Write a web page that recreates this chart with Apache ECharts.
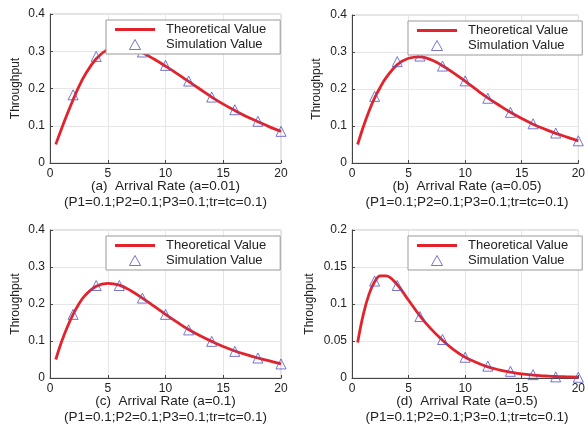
<!DOCTYPE html>
<html>
<head>
<meta charset="utf-8">
<script src="https://cdn.jsdelivr.net/npm/echarts@6/dist/echarts.min.js"></script>
<style>
    html, body { margin: 0; padding: 0; background: #fff; }
    #chart { width: 588px; height: 430px; }
</style>
</head>
<body>
<div id="chart"></div>
<script>
// x positions for the theoretical curve and the simulation points
const theoryX = [0.5, 1, 1.5, 2, 2.5, 3, 4, 5, 6, 7, 8, 9, 10, 11, 12, 13, 14, 15, 16, 17, 18, 19, 20];
const simX = [2, 4, 6, 8, 10, 12, 14, 16, 18, 20];

// theoretical values, one list per panel
const theoryA = [0.05, 0.092, 0.132, 0.17, 0.205, 0.235, 0.28, 0.305, 0.313, 0.308, 0.296, 0.279, 0.26, 0.24, 0.219, 0.198, 0.177, 0.158, 0.141, 0.125, 0.111, 0.097, 0.085];
const theoryB = [0.05, 0.098, 0.14, 0.176, 0.205, 0.23, 0.266, 0.283, 0.287, 0.279, 0.263, 0.243, 0.221, 0.198, 0.176, 0.156, 0.137, 0.12, 0.105, 0.092, 0.08, 0.07, 0.06];
const theoryC = [0.05, 0.098, 0.138, 0.172, 0.2, 0.222, 0.248, 0.256, 0.251, 0.236, 0.216, 0.194, 0.172, 0.151, 0.131, 0.114, 0.099, 0.085, 0.073, 0.063, 0.054, 0.046, 0.038];
const theoryD = [0.048, 0.086, 0.113, 0.13, 0.138, 0.138, 0.126, 0.105, 0.084, 0.066, 0.051, 0.038, 0.028, 0.021, 0.015, 0.011, 0.008, 0.0055, 0.004, 0.003, 0.002, 0.0015, 0.001];

// simulation values, one list per panel
const simA = [0.183, 0.286, 0.312, 0.298, 0.262, 0.22, 0.177, 0.143, 0.112, 0.085];
const simB = [0.18, 0.274, 0.289, 0.262, 0.222, 0.175, 0.137, 0.106, 0.081, 0.06];
const simC = [0.172, 0.25, 0.25, 0.216, 0.172, 0.13, 0.099, 0.072, 0.054, 0.038];
const simD = [0.131, 0.125, 0.083, 0.052, 0.028, 0.016, 0.009, 0.0045, 0.0015, 0.001];

const yMax = [0.4, 0.4, 0.4, 0.2];
const yStep = [0.1, 0.1, 0.1, 0.05];
const captions = [
    '(a)  Arrival Rate (a=0.01)',
    '(b)  Arrival Rate (a=0.05)',
    '(c)  Arrival Rate (a=0.1)',
    '(d)  Arrival Rate (a=0.5)'
];
const paramLine = '(P1=0.1;P2=0.1;P3=0.1;tr=tc=0.1)';

const theory = [theoryA, theoryB, theoryC, theoryD];
const sim = [simA, simB, simC, simD];

const FONT = 'Liberation Sans, Arial, sans-serif';
const RED = '#e3232b';
const BLUE = '#5452c4';

// panel layout (pixels)
const panels = [
    { left: 50, top: 14, width: 231, height: 149, nameGap: 28 },
    { left: 352, top: 15, width: 230, height: 148, nameGap: 29 },
    { left: 50, top: 230, width: 231, height: 148, nameGap: 28 },
    { left: 352, top: 230, width: 230, height: 148, nameGap: 36 }
];

const pairs = function (xs, ys) {
    return xs.map(function (x, i) { return [x, ys[i]]; });
};

const grid = [], xAxis = [], yAxis = [], series = [], legend = [], title = [];

panels.forEach(function (p, i) {
    grid.push({
        left: p.left, top: p.top, width: p.width, height: p.height,
        show: true, borderColor: '#c8c8c8', borderWidth: 1
    });
    xAxis.push({
        gridIndex: i, type: 'value', min: 0, max: 20, interval: 5,
        axisLine: { onZero: false, lineStyle: { color: '#444', width: 1 } },
        axisTick: { inside: true, length: 3, lineStyle: { color: '#444' } },
        axisLabel: { color: '#222', fontSize: 12, fontFamily: FONT, margin: 5 },
        splitLine: { lineStyle: { color: '#e6e6e6', width: 1 } }
    });
    yAxis.push({
        gridIndex: i, type: 'value', min: 0, max: yMax[i], interval: yStep[i],
        name: 'Throughput', nameLocation: 'middle', nameGap: p.nameGap,
        nameTextStyle: { color: '#222', fontSize: 12, fontFamily: FONT },
        axisLine: { show: true, onZero: false, lineStyle: { color: '#444', width: 1 } },
        axisTick: { inside: true, length: 3, lineStyle: { color: '#444' } },
        axisLabel: { color: '#222', fontSize: 12, fontFamily: FONT, margin: 5 },
        splitLine: { lineStyle: { color: '#e6e6e6', width: 1 } }
    });
    series.push({
        name: 'Theoretical Value', type: 'line', xAxisIndex: i, yAxisIndex: i,
        data: pairs(theoryX, theory[i]), smooth: 0.4, symbol: 'none',
        lineStyle: { color: RED, width: 2.8 }, itemStyle: { color: RED },
        z: 2, animation: false
    });
    series.push({
        name: 'Simulation Value', type: 'scatter', xAxisIndex: i, yAxisIndex: i,
        data: pairs(simX, sim[i]), symbol: 'triangle', symbolSize: 10,
        itemStyle: { color: 'rgba(255,255,255,0)', borderColor: BLUE, borderWidth: 1 },
        z: 3, animation: false
    });
    legend.push({
        orient: 'vertical',
        left: p.left + 56, top: p.top + 6,
        padding: [3, 14, 3, 9],
        itemWidth: 40, itemHeight: 10, itemGap: 2,
        backgroundColor: '#fff', borderColor: '#999', borderWidth: 1,
        textStyle: { color: '#222', fontSize: 13, fontFamily: FONT, padding: [0, 0, 0, 6] },
        data: [
            { name: 'Theoretical Value', icon: 'path://M0,0H40V3H0Z', itemStyle: { color: RED } },
            { name: 'Simulation Value', icon: 'path://M5,0L10,9L0,9Z', itemStyle: { color: '#fff', borderColor: BLUE, borderWidth: 1 } }
        ],
        selectedMode: false
    });
    title.push({
        text: captions[i],
        subtext: paramLine,
        left: p.left + p.width / 2,
        textAlign: 'center',
        top: p.top + p.height + 16,
        itemGap: 2,
        padding: 0,
        textStyle: { color: '#222', fontSize: 13.5, fontWeight: 'normal', fontFamily: FONT },
        subtextStyle: { color: '#222', fontSize: 13.5, fontFamily: FONT }
    });
});

const chart = echarts.init(document.getElementById('chart'), null, { renderer: 'canvas' });
chart.setOption({
    backgroundColor: '#fff',
    animation: false,
    title: title,
    legend: legend,
    grid: grid,
    xAxis: xAxis,
    yAxis: yAxis,
    series: series
});
window.addEventListener('resize', function () {
    chart.resize();
});
</script>
</body>
</html>
